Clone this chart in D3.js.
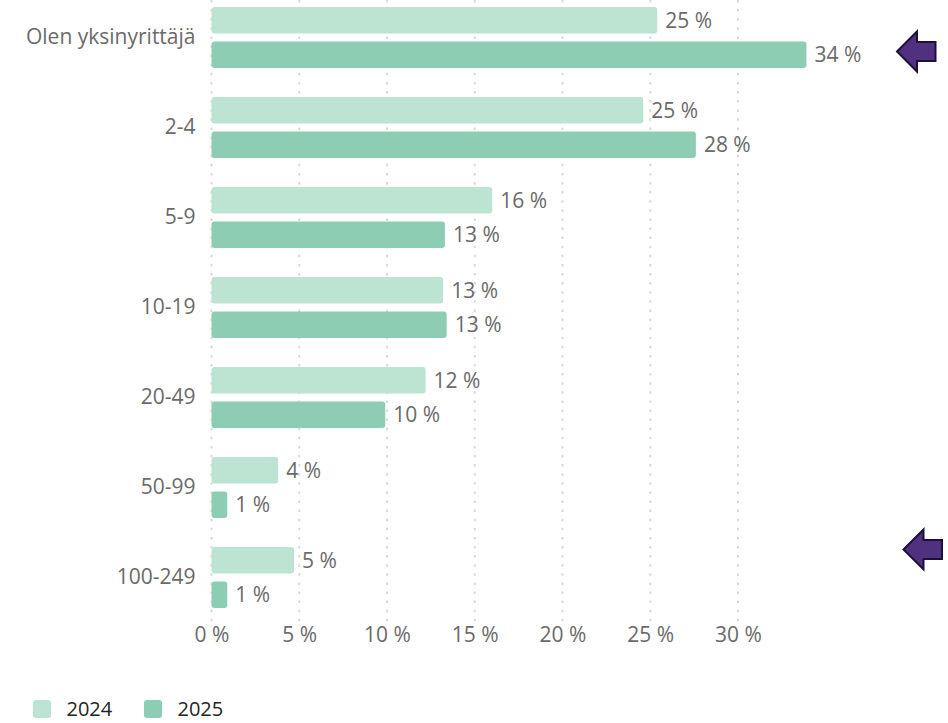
<!DOCTYPE html>
<html>
<head>
<meta charset="utf-8">
<script src="https://cdn.jsdelivr.net/npm/d3@7"></script>
<style>
  html, body { margin: 0; padding: 0; background: #ffffff; }
  svg { display: block; }
  text { font-family: "Open Sans", "Noto Sans", sans-serif; }
</style>
</head>
<body>
<svg id="chart" width="948" height="723"></svg>
<script>
// Company size categories (number of employees)
const categories = ["Olen yksinyrittäjä", "2-4", "5-9", "10-19", "20-49", "50-99", "100-249"];
const seriesNames = ["2024", "2025"];
const values2024 = [25.4, 24.6, 16.0, 13.2, 12.2, 3.8, 4.7];
const values2025 = [33.9, 27.6, 13.3, 13.4, 9.9, 0.9, 0.9];
const xTicks = [0, 5, 10, 15, 20, 25, 30];
// Highlighted rows: category and relative vertical position within the group
const highlights = [
  { category: "Olen yksinyrittäjä", at: 0.73 },
  { category: "100-249", at: 0.04 }
];

const colors = { "2024": "#bde3d3", "2025": "#8dcdb4" };
const labelFont = "21px";

const rows = categories.map((c, i) => ({
  category: c,
  bars: [
    { series: "2024", value: values2024[i] },
    { series: "2025", value: values2025[i] }
  ]
}));

const svg = d3.select("#chart");

const x = d3.scaleLinear().domain([0, 34]).range([211.5, 808.2]);
const y = d3.scaleBand().domain(categories).range([-7.5, 622.5])
  .paddingInner(0.322).paddingOuter(0.161);
const ySub = d3.scaleBand().domain(seriesNames).range([0, y.bandwidth()]).paddingInner(0.232);

// dotted vertical gridlines
svg.append("g").selectAll("line").data(xTicks).join("line")
  .attr("x1", d => x(d)).attr("x2", d => x(d))
  .attr("y1", 0).attr("y2", 622)
  .attr("stroke", "#d9d9d9").attr("stroke-width", 2)
  .attr("stroke-dasharray", "2.5,6.6");

// x axis tick labels
const xAxis = d3.axisBottom(x).tickValues(xTicks).tickSize(0).tickPadding(0)
  .tickFormat(d => d + " %");
const gx = svg.append("g").attr("transform", "translate(0,627)").call(xAxis);
gx.select(".domain").remove();
gx.selectAll("text")
  .attr("dy", "0.71em")
  .attr("fill", "#6a6a6a")
  .style("font-size", labelFont)
  .style("font-family", "'Open Sans', sans-serif");

// y axis category labels
const yAxis = d3.axisLeft(y).tickSize(0).tickPadding(16);
const gy = svg.append("g").attr("transform", `translate(${x(0)},0)`).call(yAxis);
gy.select(".domain").remove();
gy.selectAll("text")
  .attr("fill", "#6a6a6a")
  .style("font-size", labelFont)
  .style("font-family", "'Open Sans', sans-serif");

// grouped bars
const groups = svg.append("g").selectAll("g").data(rows).join("g")
  .attr("transform", d => `translate(0,${y(d.category)})`);

groups.selectAll("rect").data(d => d.bars).join("rect")
  .attr("x", x(0))
  .attr("y", d => ySub(d.series))
  .attr("width", d => x(d.value) - x(0))
  .attr("height", ySub.bandwidth())
  .attr("rx", 3).attr("ry", 3)
  .attr("fill", d => colors[d.series]);

groups.selectAll("text.val").data(d => d.bars).join("text")
  .attr("class", "val")
  .attr("x", d => x(d.value) + 8)
  .attr("y", d => ySub(d.series) + ySub.bandwidth() / 2)
  .attr("dy", "0.35em")
  .attr("fill", "#6a6a6a")
  .style("font-size", labelFont)
  .text(d => Math.round(d.value) + " %");

// highlight arrows pointing left
const arrowPath = d3.path();
arrowPath.moveTo(0, 0);
arrowPath.lineTo(20, -20);
arrowPath.lineTo(20, -9.5);
arrowPath.lineTo(38.5, -9.5);
arrowPath.lineTo(38.5, 9.5);
arrowPath.lineTo(20, 9.5);
arrowPath.lineTo(20, 20);
arrowPath.closePath();

svg.append("g").selectAll("path").data(highlights).join("path")
  .attr("transform", (d, i) => `translate(${i === 0 ? 897 : 903.5},${y(d.category) + d.at * y.bandwidth()})`)
  .attr("d", arrowPath.toString())
  .attr("fill", "#50317f")
  .attr("stroke", "#1e0f3a")
  .attr("stroke-width", 2)
  .attr("stroke-linejoin", "miter");

// legend
const legend = svg.append("g").attr("transform", "translate(33,700)");
const li = legend.selectAll("g").data(seriesNames).join("g")
  .attr("transform", (d, i) => `translate(${i * 111},0)`);
li.append("rect").attr("width", 18).attr("height", 18).attr("rx", 3)
  .attr("fill", d => colors[d]);
li.append("text").attr("x", 33.5).attr("y", 9).attr("dy", "0.36em")
  .attr("fill", "#252423").style("font-size", "20px")
  .text(d => d);
</script>
</body>
</html>
